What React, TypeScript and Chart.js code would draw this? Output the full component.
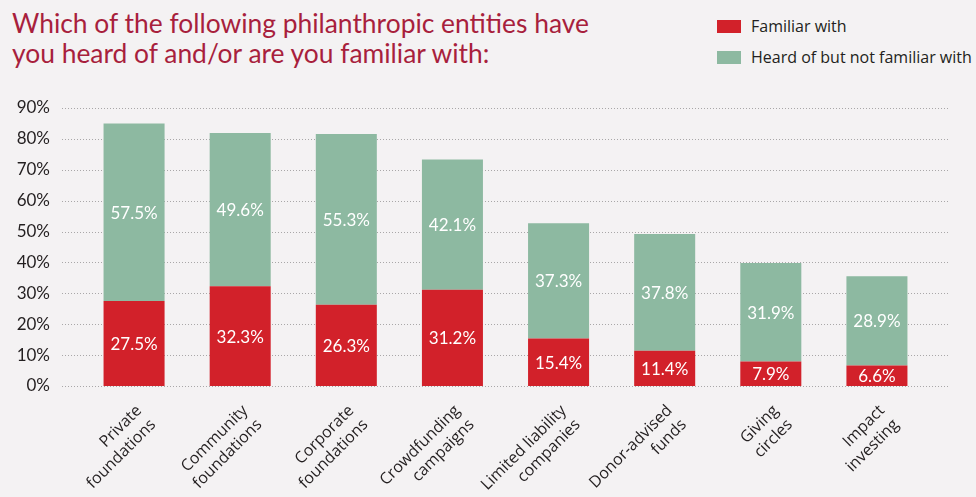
import React, { useEffect, useRef } from "react";
import { Chart, registerables } from "chart.js";

Chart.register(...registerables);

const titleLines = [
  "Which of the following philanthropic entities have",
  "you heard of and/or are you familiar with:",
];
const categories = [
  ["Private", "foundations"],
  ["Community", "foundations"],
  ["Corporate", "foundations"],
  ["Crowdfunding", "campaigns"],
  ["Limited liability", "companies"],
  ["Donor-advised", "funds"],
  ["Giving", "circles"],
  ["Impact", "investing"],
];
const familiarWith = [27.5, 32.3, 26.3, 31.2, 15.4, 11.4, 7.9, 6.6];
const heardNotFamiliar = [57.5, 49.6, 55.3, 42.1, 37.3, 37.8, 31.9, 28.9];
const seriesNames = ["Familiar with", "Heard of but not familiar with"];
const seriesColors = ["#d2212a", "#8db9a1"];
const yTickValues = [0, 10, 20, 30, 40, 50, 60, 70, 80, 90];

const FONT = "Lato, 'Open Sans', sans-serif";
const FONT2 = "'Open Sans', Lato, sans-serif";
const TEXT = "#231f20";

export default function App() {
  const ref = useRef<HTMLCanvasElement | null>(null);

  useEffect(() => {
    if (!ref.current) return;

    const gridPlugin = {
      id: "dottedGrid",
      beforeDatasetsDraw(chart: any) {
        const { ctx, chartArea, scales } = chart;
        ctx.save();
        ctx.strokeStyle = "#a9a7a8";
        ctx.lineWidth = 1;
        ctx.setLineDash([1, 2]);
        yTickValues.forEach((v) => {
          const y = Math.round(scales.y.getPixelForValue(v)) + 0.5;
          ctx.beginPath();
          ctx.moveTo(chartArea.left - 19, y);
          ctx.lineTo(chartArea.right + 18, y);
          ctx.stroke();
        });
        ctx.restore();
      },
    };

    const valueLabelPlugin = {
      id: "valueLabels",
      afterDatasetsDraw(chart: any) {
        const { ctx } = chart;
        ctx.save();
        ctx.fillStyle = "#ffffff";
        ctx.font = `17px ${FONT}`;
        ctx.textAlign = "center";
        ctx.textBaseline = "middle";
        chart.data.datasets.forEach((ds: any, di: number) => {
          const meta = chart.getDatasetMeta(di);
          meta.data.forEach((el: any, i: number) => {
            const v = ds.data[i];
            ctx.fillText(v.toFixed(1) + "%", el.x, (el.y + el.base) / 2 + 1);
          });
        });
        ctx.restore();
      },
    };

    const xLabelPlugin = {
      id: "xLabels",
      afterDraw(chart: any) {
        const { ctx, chartArea, scales } = chart;
        ctx.save();
        ctx.fillStyle = TEXT;
        ctx.font = `500 16px ${FONT2}`;
        ctx.textAlign = "right";
        ctx.textBaseline = "middle";
        const lh = 20;
        categories.forEach((lines, i) => {
          const px = scales.x.getPixelForValue(i);
          ctx.save();
          ctx.translate(px - 2, chartArea.bottom + 15);
          ctx.rotate(-Math.PI / 4);
          lines.forEach((line, j) => {
            ctx.fillText(line, 0, lh / 2 + j * lh);
          });
          ctx.restore();
        });
        ctx.restore();
      },
    };

    const chart = new Chart(ref.current, {
      type: "bar",
      data: {
        labels: categories.map((c) => c.join(" ")),
        datasets: [
          {
            label: seriesNames[0],
            data: familiarWith,
            backgroundColor: seriesColors[0],
            barPercentage: 0.575,
            categoryPercentage: 1,
          },
          {
            label: seriesNames[1],
            data: heardNotFamiliar,
            backgroundColor: seriesColors[1],
            barPercentage: 0.575,
            categoryPercentage: 1,
          },
        ],
      },
      options: {
        responsive: false,
        animation: false,
        layout: { padding: { top: 108, right: 46, left: 0, bottom: 0 } },
        plugins: {
          legend: { display: false },
          tooltip: { enabled: false },
          title: { display: false },
        },
        scales: {
          x: {
            stacked: true,
            grid: { display: false, drawTicks: false },
            border: { display: false },
            ticks: { display: false },
            afterFit: (s: any) => {
              s.height = 111;
            },
          },
          y: {
            stacked: true,
            min: 0,
            max: 90,
            grid: { display: false, drawTicks: false },
            border: { display: false },
            ticks: {
              stepSize: 10,
              padding: 31,
              color: TEXT,
              font: { family: FONT, size: 17 },
              callback: (v: any) => v + "%",
            },
            afterFit: (s: any) => {
              s.width = 81;
            },
          },
        },
      },
      plugins: [gridPlugin, valueLabelPlugin, xLabelPlugin],
    });
    return () => chart.destroy();
  }, []);

  return (
    <div
      style={{
        position: "fixed",
        left: 0,
        top: 0,
        width: 976,
        height: 497,
        background: "#f4f2f3",
        overflow: "hidden",
        fontFamily: FONT,
      }}
    >
      <div
        style={{
          position: "absolute",
          left: 12,
          top: 8,
          fontSize: 26.4,
          lineHeight: "30px",
          color: "#a81f3d",
          whiteSpace: "nowrap",
        }}
      >
        {titleLines.map((t, i) => (
          <div key={i}>{t}</div>
        ))}
      </div>
      {seriesNames.map((name, i) => (
        <div
          key={name}
          style={{
            position: "absolute",
            left: 717,
            top: 15 + i * 31,
            height: 22,
            display: "flex",
            alignItems: "center",
            whiteSpace: "nowrap",
          }}
        >
          <span
            style={{
              display: "inline-block",
              width: 24,
              height: 13,
              background: seriesColors[i],
              marginRight: 10,
            }}
          />
          <span style={{ fontSize: 16, color: TEXT, fontWeight: 500, fontFamily: FONT2 }}>
            {name}
          </span>
        </div>
      ))}
      <canvas
        ref={ref}
        width={976}
        height={497}
        style={{ position: "absolute", left: 0, top: 0, width: 976, height: 497 }}
      />
    </div>
  );
}
